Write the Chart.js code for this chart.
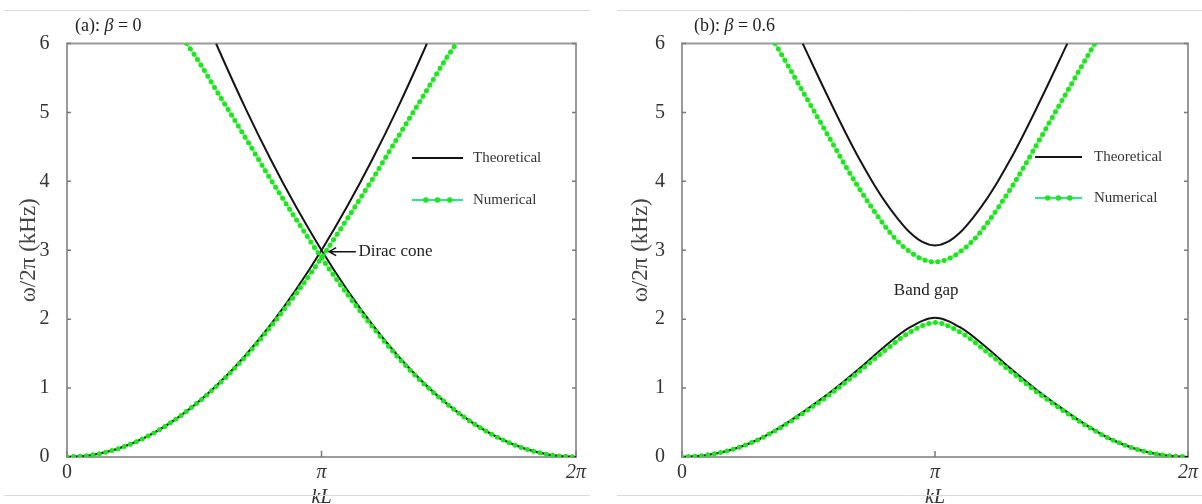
<!DOCTYPE html>
<html>
<head>
<meta charset="utf-8">
<script src="https://cdn.jsdelivr.net/npm/chart.js@4"></script>
<style>
body { margin: 0; background: #fff; }
.panel { position: absolute; top: 0; height: 504px; }
</style>
</head>
<body>
<div class="panel" style="left:0;width:600px"><canvas id="chartA" width="600" height="504"></canvas></div>
<div class="panel" style="left:600px;width:602px"><canvas id="chartB" width="602" height="504"></canvas></div>
<script>
// kL is given in units of pi, frequency omega/2pi in kHz

// (a) beta = 0
const kTheoryRiseA = [0, 0.1, 0.2, 0.3, 0.4, 0.5, 0.6, 0.7, 0.8, 0.9, 1.0, 1.1, 1.2, 1.3, 1.4, 1.414]
const wTheoryRiseA = [0, 0.03, 0.12, 0.27, 0.48, 0.75, 1.08, 1.47, 1.92, 2.43, 3.0, 3.63, 4.32, 5.07, 5.88, 6.0]
const kTheoryFallA = [0.586, 0.6, 0.7, 0.8, 0.9, 1.0, 1.1, 1.2, 1.3, 1.4, 1.5, 1.6, 1.7, 1.8, 1.9, 2.0]
const wTheoryFallA = [6.0, 5.88, 5.07, 4.32, 3.63, 3.0, 2.43, 1.92, 1.47, 1.08, 0.75, 0.48, 0.27, 0.12, 0.03, 0]
const kNumRiseA = [0, 0.1, 0.2, 0.3, 0.4, 0.5, 0.6, 0.7, 0.8, 0.9, 1.0, 1.1, 1.2, 1.3, 1.4, 1.5, 1.53]
const wNumRiseA = [0, 0.03, 0.12, 0.27, 0.48, 0.75, 1.07, 1.45, 1.89, 2.37, 2.89, 3.45, 4.03, 4.64, 5.24, 5.84, 6.0]
const kNumFallA = [0.47, 0.5, 0.6, 0.7, 0.8, 0.9, 1.0, 1.1, 1.2, 1.3, 1.4, 1.5, 1.6, 1.7, 1.8, 1.9, 2.0]
const wNumFallA = [6.0, 5.84, 5.24, 4.64, 4.03, 3.45, 2.89, 2.37, 1.89, 1.45, 1.07, 0.75, 0.48, 0.27, 0.12, 0.03, 0]

// (b) beta = 0.6
const kLowerB = [0, 0.1, 0.2, 0.3, 0.4, 0.5, 0.6, 0.7, 0.8, 0.9, 1.0, 1.1, 1.2, 1.3, 1.4, 1.5, 1.6, 1.7, 1.8, 1.9, 2.0]
const wTheoryLowerB = [0, 0.03, 0.11, 0.25, 0.46, 0.71, 0.98, 1.28, 1.6, 1.88, 2.02, 1.88, 1.6, 1.28, 0.98, 0.71, 0.46, 0.25, 0.11, 0.03, 0]
const wNumLowerB = [0, 0.03, 0.11, 0.25, 0.45, 0.69, 0.95, 1.24, 1.54, 1.81, 1.95, 1.81, 1.54, 1.24, 0.95, 0.69, 0.45, 0.25, 0.11, 0.03, 0]
const kTheoryUpperB = [0.477, 0.5, 0.55, 0.6, 0.65, 0.7, 0.75, 0.8, 0.85, 0.9, 0.95, 1.0, 1.05, 1.1, 1.15, 1.2, 1.25, 1.3, 1.35, 1.4, 1.45, 1.5, 1.523]
const wTheoryUpperB = [6.0, 5.82, 5.43, 5.05, 4.68, 4.33, 4.01, 3.72, 3.47, 3.26, 3.12, 3.07, 3.12, 3.26, 3.47, 3.72, 4.01, 4.33, 4.68, 5.05, 5.43, 5.82, 6.0]
const kNumUpperB = [0.368, 0.4, 0.45, 0.5, 0.55, 0.6, 0.65, 0.7, 0.75, 0.8, 0.85, 0.9, 0.95, 1.0, 1.05, 1.1, 1.15, 1.2, 1.25, 1.3, 1.35, 1.4, 1.45, 1.5, 1.55, 1.6, 1.632]
const wNumUpperB = [6.0, 5.8, 5.48, 5.16, 4.84, 4.52, 4.2, 3.9, 3.62, 3.36, 3.14, 2.98, 2.87, 2.83, 2.87, 2.98, 3.14, 3.36, 3.62, 3.9, 4.2, 4.52, 4.84, 5.16, 5.48, 5.8, 6.0]

// Axes and labels
const xTickValues = [0, 1, 2]
const xTickLabels = ['0', 'π', '2π']
const yTickValues = [0, 1, 2, 3, 4, 5, 6]
const seriesNames = ['Theoretical', 'Numerical']
const panelTitles = [['(a): ', 'β', ' = 0'], ['(b): ', 'β', ' = 0.6']]

const SERIF = "'Liberation Serif', 'DejaVu Serif', serif"
const BLACK = '#151515'
const GREEN_DOT = '#1ee61e'
const GREEN_LINE = '#86f586'

const pts = (ks, ws) => ks.map((k, i) => ({ x: k, y: ws[i] }))

function theoryLine(ks, ws) {
    return { data: pts(ks, ws), showLine: true, pointRadius: 0, borderColor: BLACK, borderWidth: 2, cubicInterpolationMode: 'monotone', order: 1 }
}

// green numerical curve = thin line underneath + beaded markers on top
function numericalLines(ks, ws) {
    return [
        { data: pts(ks, ws), showLine: true, pointRadius: 0, borderColor: GREEN_DOT, borderWidth: 5, borderDash: [0, 6.5], borderCapStyle: 'round', cubicInterpolationMode: 'monotone', order: 0 },
        { data: pts(ks, ws), showLine: true, pointRadius: 0, borderColor: GREEN_LINE, borderWidth: 2.5, cubicInterpolationMode: 'monotone', order: 2 }
    ]
}

const panelDecor = {
    id: 'panelDecor',
    beforeDatasetsDraw(chart) {
        const { ctx, chartArea: a, scales: { x, y } } = chart
        ctx.save()
        ctx.strokeStyle = '#9a9a9a'
        ctx.lineWidth = 2
        ctx.strokeRect(a.left, a.top, a.right - a.left, a.bottom - a.top)
        // inward ticks
        ctx.strokeStyle = '#7a7a7a'
        ctx.lineWidth = 1.5
        ctx.beginPath()
        yTickValues.forEach(v => {
            const py = y.getPixelForValue(v)
            ctx.moveTo(a.left, py); ctx.lineTo(a.left + 4, py)
            ctx.moveTo(a.right, py); ctx.lineTo(a.right - 4, py)
        })
        xTickValues.forEach(v => {
            const px = x.getPixelForValue(v)
            ctx.moveTo(px, a.bottom); ctx.lineTo(px, a.bottom - 6)
        })
        ctx.stroke()
        ctx.restore()
    },
    afterDatasetsDraw(chart, args, o) {
        const { ctx, scales: { x, y } } = chart
        ctx.save()

        // legend
        const lg = o.legend
        ctx.lineWidth = 2
        ctx.strokeStyle = BLACK
        ctx.beginPath(); ctx.moveTo(lg.x0, lg.y0); ctx.lineTo(lg.x1, lg.y0); ctx.stroke()
        ctx.strokeStyle = '#22ee88'
        ctx.beginPath(); ctx.moveTo(lg.x0, lg.y1); ctx.lineTo(lg.x1, lg.y1); ctx.stroke()
        ctx.fillStyle = GREEN_DOT
        ;[0.27, 0.5, 0.74].forEach(f => {
            ctx.beginPath(); ctx.arc(lg.x0 + f * (lg.x1 - lg.x0), lg.y1, 2.8, 0, Math.PI * 2); ctx.fill()
        })
        ctx.fillStyle = '#333'
        ctx.font = '15px ' + SERIF
        ctx.textBaseline = 'middle'
        ctx.textAlign = 'left'
        ctx.fillText(seriesNames[0], lg.tx, lg.y0)
        ctx.fillText(seriesNames[1], lg.tx, lg.y1)

        // annotation
        const an = o.note
        ctx.font = '17px ' + SERIF
        ctx.fillStyle = '#222'
        ctx.textAlign = an.align
        ctx.fillText(an.text, x.getPixelForValue(an.at[0]), y.getPixelForValue(an.at[1]))
        if (an.arrow) {
            const fx = x.getPixelForValue(an.arrow[0]), tx = x.getPixelForValue(an.arrow[1]), py = y.getPixelForValue(an.at[1])
            ctx.strokeStyle = '#111'
            ctx.lineWidth = 1.5
            ctx.beginPath()
            ctx.moveTo(fx, py); ctx.lineTo(tx, py)
            ctx.moveTo(tx + 7, py - 4); ctx.lineTo(tx, py); ctx.lineTo(tx + 7, py + 4)
            ctx.stroke()
        }
        ctx.restore()
    },
    afterDraw(chart, args, o) {
        const { ctx, chartArea: a } = chart
        ctx.save()
        // panel title
        let px = a.left + o.titleOffset
        ctx.textBaseline = 'middle'
        ctx.textAlign = 'left'
        ctx.fillStyle = '#222'
        o.title.forEach((part, i) => {
            ctx.font = (i === 1 ? 'italic ' : '') + '18px ' + SERIF
            ctx.fillText(part, px, 26)
            px += ctx.measureText(part).width
        })
        // faint frame lines of the figure
        ctx.strokeStyle = '#dadada'
        ctx.lineWidth = 1
        ctx.beginPath()
        ctx.moveTo(o.frame[0], 10.5); ctx.lineTo(o.frame[1], 10.5)
        ctx.moveTo(o.frame[0], 495.5); ctx.lineTo(o.frame[1], 495.5)
        ctx.stroke()
        ctx.restore()
    }
}

function makeChart(id, datasets, cfg) {
    return new Chart(document.getElementById(id), {
        type: 'scatter',
        data: { datasets },
        options: {
            responsive: false,
            animation: false,
            layout: { padding: { left: 0, right: cfg.padRight, top: 43.5, bottom: 0 } },
            plugins: { legend: { display: false }, tooltip: { enabled: false }, panelDecor: cfg },
            scales: {
                x: {
                    type: 'linear', min: 0, max: 2,
                    afterBuildTicks: s => { s.ticks = xTickValues.map(v => ({ value: v })) },
                    grid: { display: false }, border: { display: false },
                    ticks: {
                        padding: -4, color: '#333',
                        font: c => ({ family: SERIF, size: 20, style: c.tick && c.tick.value ? 'italic' : 'normal' }),
                        callback: v => xTickLabels[xTickValues.indexOf(v)]
                    },
                    title: { display: true, text: 'kL', color: '#333', font: { family: SERIF, size: 20, style: 'italic' }, padding: { top: 0, bottom: -6 } },
                    afterFit: s => { s.height = 47 }
                },
                y: {
                    min: 0, max: 6,
                    afterBuildTicks: s => { s.ticks = yTickValues.map(v => ({ value: v })) },
                    grid: { display: false }, border: { display: false },
                    ticks: { padding: cfg.yTickPad, color: '#333', font: { family: SERIF, size: 20 } },
                    title: { display: true, text: 'ω/2π (kHz)', color: '#444', font: { family: SERIF, size: 23 }, padding: { top: cfg.yTitlePad, bottom: 0 } },
                    afterFit: s => { s.width = cfg.yWidth }
                }
            }
        },
        plugins: [panelDecor]
    })
}

makeChart('chartA', [
    ...numericalLines(kNumRiseA, wNumRiseA),
    ...numericalLines(kNumFallA, wNumFallA),
    theoryLine(kTheoryRiseA, wTheoryRiseA),
    theoryLine(kTheoryFallA, wTheoryFallA)
], {
    padRight: 24, yWidth: 67, yTickPad: 9.5, yTitlePad: 15,
    title: panelTitles[0], titleOffset: 8, frame: [4, 590],
    legend: { x0: 412, x1: 463, tx: 473, y0: 158, y1: 200 },
    note: { text: 'Dirac cone', at: [1.145, 2.98], align: 'left', arrow: [1.135, 1.03] }
})

makeChart('chartB', [
    ...numericalLines(kLowerB, wNumLowerB),
    ...numericalLines(kNumUpperB, wNumUpperB),
    theoryLine(kLowerB, wTheoryLowerB),
    theoryLine(kTheoryUpperB, wTheoryUpperB)
], {
    padRight: 14, yWidth: 82, yTickPad: 9, yTitlePad: 27,
    title: panelTitles[1], titleOffset: 12, frame: [17, 602],
    legend: { x0: 435, x1: 482, tx: 494, y0: 157, y1: 198 },
    note: { text: 'Band gap', at: [0.965, 2.42], align: 'center' }
})
</script>
</body>
</html>
